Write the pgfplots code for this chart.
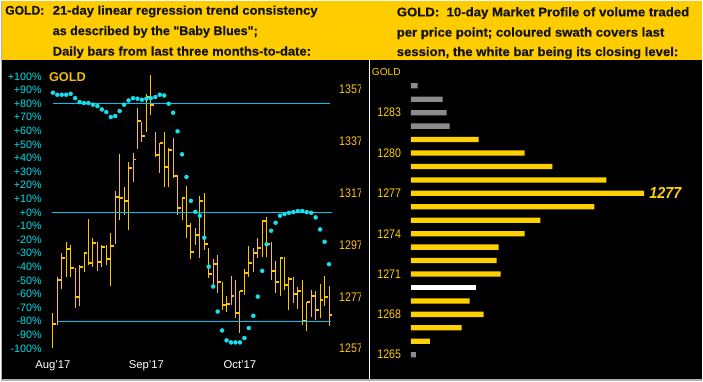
\documentclass[border=0pt]{standalone}
\usepackage{pgfplots}
\pgfplotsset{compat=1.18}
\usepackage{pgfplotstable}
\usepackage{graphicx}
\usepackage{fontspec}
\setmainfont{Liberation Sans}
\newfontfamily\hdrfont[FakeBold=0.6]{Liberation Sans Bold}
\definecolor{hdr}{RGB}{255,204,0}
\definecolor{goldbar}{RGB}{255,196,0}
\definecolor{bbcyan}{RGB}{20,225,240}
\definecolor{lncyan}{RGB}{0,195,245}
\definecolor{labcyan}{RGB}{0,225,235}
\definecolor{mpgold}{RGB}{255,208,0}
\definecolor{mpgray}{RGB}{140,140,140}
\definecolor{framegray}{RGB}{175,175,175}
\definecolor{titlegold}{RGB}{240,188,0}
\pgfdeclareplotmark{rtick}{\pgfpathmoveto{\pgfqpoint{0pt}{0pt}}\pgfpathlineto{\pgfqpoint{3.4pt}{0pt}}\pgfusepathqstroke}
\newcommand{\nl}[1]{\scalebox{0.85}[1]{#1}}

\pgfplotstableread{
i H L C
0 1270.6 1257.2 1266.4
1 1284.7 1265.9 1283.5
2 1293.8 1280.0 1292.1
3 1298.2 1284.7 1295.3
4 1297.0 1284.4 1288.0
5 1288.0 1272.8 1277.0
6 1289.3 1273.2 1288.6
7 1294.4 1286.4 1293.8
8 1307.0 1289.3 1290.1
9 1299.5 1288.4 1297.6
10 1298.2 1286.9 1290.5
11 1297.0 1288.6 1296.3
12 1297.0 1289.3 1291.6
13 1301.5 1281.3 1296.7
14 1317.8 1297.2 1315.6
15 1332.0 1306.6 1315.2
16 1319.4 1308.5 1313.9
17 1329.1 1302.7 1326.7
18 1332.4 1321.4 1330.0
19 1349.9 1334.2 1344.7
20 1344.5 1336.8 1339.1
21 1355.4 1340.6 1354.1
22 1362.5 1347.1 1351.2
23 1340.6 1331.0 1331.6
24 1336.4 1324.6 1336.2
25 1340.6 1319.4 1327.1
26 1334.3 1319.4 1333.8
27 1338.2 1322.8 1323.7
28 1323.9 1308.5 1311.1
29 1315.6 1306.6 1315.0
30 1319.7 1299.5 1304.4
31 1305.3 1291.5 1294.4
32 1303.5 1297.0 1300.8
33 1315.8 1291.8 1313.9
34 1316.9 1295.0 1297.2
35 1295.7 1284.1 1285.7
36 1291.5 1280.3 1289.5
37 1293.1 1278.3 1282.6
38 1282.8 1271.9 1273.6
39 1277.3 1270.9 1274.1
40 1285.0 1273.8 1277.3
41 1283.5 1268.7 1270.6
42 1279.2 1262.9 1279.2
43 1287.6 1277.7 1286.3
44 1296.6 1284.7 1290.1
45 1295.7 1286.7 1294.0
46 1299.5 1291.8 1295.9
47 1306.6 1292.5 1306.2
48 1307.9 1292.5 1297.2
49 1298.2 1283.5 1286.9
50 1290.8 1278.3 1282.8
51 1292.5 1277.3 1292.1
52 1292.5 1279.6 1281.5
53 1284.7 1271.9 1283.7
54 1284.7 1274.5 1278.0
55 1280.9 1272.2 1279.0
56 1283.5 1266.1 1267.7
57 1275.1 1263.6 1274.9
58 1279.6 1269.3 1277.4
59 1279.0 1268.1 1271.9
60 1281.9 1268.7 1275.8
61 1285.0 1273.2 1276.7
62 1281.2 1265.7 1270.0
}\bars

\pgfplotstableread{
i P
0 88.0
1 86.5
2 86.5
3 86.5
4 87.2
5 84.0
6 81.1
7 80.4
8 80.4
9 79.2
10 78.2
11 75.7
12 73.8
13 70.1
14 70.8
15 74.5
16 79.2
17 82.3
18 84.0
19 83.6
20 82.8
21 83.6
22 84.0
23 84.8
24 86.5
25 86.0
26 79.9
27 73.3
28 59.6
29 42.7
30 26.1
31 8.5
32 0.4
33 -2.5
34 -18.6
35 -39.9
36 -54.5
37 -72.9
38 -86.8
39 -94.1
40 -95.6
41 -95.6
42 -95.6
43 -92.4
44 -85.0
45 -76.0
46 -61.9
47 -43.0
48 -23.5
49 -13.5
50 -7.6
51 -2.5
52 -1.2
53 -0.3
54 0.2
55 1.0
56 1.0
57 0.2
58 -0.3
59 -3.7
60 -12.5
61 -21.6
62 -38.1
}\blues

\pgfplotstableread{
p v
1285 6.7
1284 32
1283 36
1282 39
1265 5
}\mpgrayt
\pgfplotstableread{
p v
1281 68
1280 114
1279 142
1278 196
1277 234
1276 184
1275 130
1274 114
1273 88
1272 86
1271 90
1269 59
1268 73
1267 51
1266 19
}\mpgoldt
\pgfplotstableread{
p v
1270 65
}\mpwhitet

\begin{document}
\begin{tikzpicture}
\fill[black] (0pt,0pt) rectangle (703pt,381pt);
\fill[hdr] (0pt,322pt) rectangle (703pt,381pt);
% header text
\begin{scope}[every node/.style={inner sep=0pt, anchor=base west, text=black!92, font=\fontsize{12.6}{14}\hdrfont}]
\node at (4pt,367pt) {\resizebox{39.3pt}{\height}{GOLD:}};
\node at (51.7pt,367pt) {\resizebox{265.6pt}{\height}{21-day linear regression trend consistency}};
\node at (51.7pt,346.5pt) {\resizebox{205.6pt}{\height}{as described by the \symbol{34}Baby Blues\symbol{34};}};
\node at (51.7pt,326pt) {\resizebox{259pt}{\height}{Daily bars from last three months-to-date:}};
\node at (396.7pt,365.3pt) {\resizebox{293.3pt}{\height}{GOLD:\ \ 10-day Market Profile of volume traded}};
\node at (396.7pt,345pt) {\resizebox{268.3pt}{\height}{per price point; coloured swath covers last}};
\node at (396.7pt,325.5pt) {\resizebox{282.3pt}{\height}{session, the white bar being its closing level:}};
\end{scope}
% left panel
\begin{scope}
\clip (0pt,0pt) rectangle (361pt,322pt);
\begin{axis}[at={(47pt,9pt)}, anchor=south west, scale only axis,
  width=287pt, height=310pt,
  xmin=-1.12, xmax=63.13, ymin=1248.02, ymax=1367.48,
  axis x line=none, axis y line*=right,
  y axis line style={draw=none},
  ytick={1257,1277,1297,1317,1337,1357},
  yticklabels={\nl{1257},\nl{1277},\nl{1297},\nl{1317},\nl{1337},\nl{1357}},
  ytick style={draw=none},
  yticklabel style={font=\fontsize{12.5}{13}\selectfont, text=goldbar, inner sep=0pt, anchor=west, xshift=5pt},
  clip=false]
\addplot[goldbar, only marks, mark=rtick, mark options={line width=2pt, solid},
  error bars/.cd, y dir=both, y explicit, error mark=none,
  error bar style={line width=1pt, goldbar}]
  table[x=i, y=C, y error plus expr=\thisrow{H}-\thisrow{C}, y error minus expr=\thisrow{C}-\thisrow{L}] {\bars};
\end{axis}
\begin{axis}[at={(47pt,9pt)}, anchor=south west, scale only axis,
  width=287pt, height=310pt,
  xmin=-1.12, xmax=63.13, ymin=-117.08, ymax=110.19,
  axis x line=none, axis y line*=left,
  y axis line style={draw=none},
  ytick={-100,-90,...,100},
  yticklabels={-100\%,-90\%,-80\%,-70\%,-60\%,-50\%,-40\%,-30\%,-20\%,-10\%,+0\%,+10\%,+20\%,+30\%,+40\%,+50\%,+60\%,+70\%,+80\%,+90\%,+100\%},
  ytick style={draw=none},
  yticklabel style={font=\fontsize{10.8}{12}\selectfont, text=labcyan, inner sep=0pt, anchor=east, xshift=-6pt},
  clip=false]
\addplot[lncyan, line width=1pt] coordinates {(-0.07,80) (62.3,80)};
\addplot[lncyan, line width=1pt] coordinates {(-0.3,0) (62.6,0)};
\addplot[lncyan, line width=1pt] coordinates {(1.1,-80) (62.4,-80)};
\addplot[bbcyan, only marks, mark=*, mark size=2pt] table[x=i, y=P] {\blues};
\node[white, font=\fontsize{11.3}{12}\selectfont, anchor=base] at (axis cs:0,-114.9) {Aug'17};
\node[white, font=\fontsize{11.3}{12}\selectfont, anchor=base] at (axis cs:21,-114.9) {Sep'17};
\node[white, font=\fontsize{11.3}{12}\selectfont, anchor=base] at (axis cs:42,-114.9) {Oct'17};
\end{axis}
\node[anchor=base west, inner sep=0pt, text=titlegold, font=\fontsize{12.8}{14}\selectfont\bfseries] at (48pt,300.3pt) {GOLD};
\end{scope}
% separator
\draw[white, line width=1pt] (369.3pt,0pt) -- (369.3pt,322pt);
% right panel
\node[anchor=east, inner sep=0pt, text=mpgold, font=\fontsize{10.2}{12}\selectfont] at (401pt,309pt) {GOLD};
\begin{axis}[at={(411pt,9pt)}, anchor=south west, scale only axis,
  width=289pt, height=310pt,
  xmin=0, xmax=289, ymin=1263.74, ymax=1286.73,
  axis x line=none, axis y line*=left,
  y axis line style={draw=none},
  ytick={1265,1268,1271,1274,1277,1280,1283},
  yticklabels={\nl{1265},\nl{1268},\nl{1271},\nl{1274},\nl{1277},\nl{1280},\nl{1283}},
  ytick style={draw=none},
  yticklabel style={font=\fontsize{12.5}{13}\selectfont, text=mpgold, inner sep=0pt, anchor=east, xshift=-9.7pt},
  clip=false]
\addplot[xbar, bar width=5.3pt, bar shift=0pt, fill=mpgray, draw=none] table[x=v, y=p] {\mpgrayt};
\addplot[xbar, bar width=5.3pt, bar shift=0pt, fill=mpgold, draw=none] table[x=v, y=p] {\mpgoldt};
\addplot[xbar, bar width=5.3pt, bar shift=0pt, fill=white, draw=none] table[x=v, y=p] {\mpwhitet};
\node[anchor=west, inner sep=0pt, text=mpgold, font=\fontsize{16}{17}\selectfont\bfseries\itshape] at (axis cs:239,1277) {\scalebox{0.9}[1]{1277}};
\end{axis}
% frame
\draw[framegray, line width=1.4pt] (0.7pt,0pt) -- (0.7pt,381pt);
\draw[framegray, line width=2pt] (0pt,1pt) -- (703pt,1pt);
\end{tikzpicture}
\end{document}
